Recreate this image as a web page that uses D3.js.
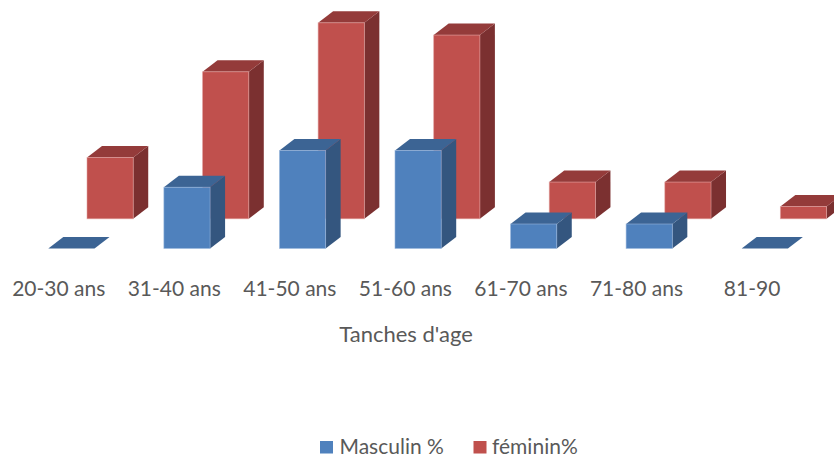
<!DOCTYPE html>
<html>
<head>
<meta charset="utf-8">
<script src="https://cdn.jsdelivr.net/npm/d3@7"></script>
<style>
  html, body { margin: 0; padding: 0; background: #fff; }
  svg { display: block; }
  text { font-family: Lato, "Open Sans", sans-serif; fill: #595959; }
</style>
</head>
<body>
<svg id="chart" width="834" height="456"></svg>
<script>
// Age groups and the share of each sex in every group (%)
const categories = ["20-30 ans", "31-40 ans", "41-50 ans", "51-60 ans", "61-70 ans", "71-80 ans", "81-90"];
const masculin = [0, 6.25, 10, 10, 2.5, 2.5, 0];
const feminin  = [6.25, 15, 20, 18.75, 3.75, 3.75, 1.25];
const seriesNames = ["Masculin %", "féminin%"];
const axisTitle = "Tanches d'age";

const series = [
  { name: seriesNames[0], values: masculin, row: 0,
    front: "#4F81BD", top: "#3C6494", side: "#34567F", edge: "#9DB9DE" },
  { name: seriesNames[1], values: feminin, row: 1,
    front: "#C0504D", top: "#943B3A", side: "#7B3030", edge: "#E2A3A1" }
];

const svg = d3.select("#chart");

// Category position of the front face of the nearest row
const x = d3.scaleBand()
  .domain(categories)
  .range([48.3, 48.3 + 115.56 * (categories.length - 0.6)])
  .paddingInner(0.6)
  .paddingOuter(0);

// Bar height in pixels
const h = d3.scaleLinear().domain([0, 20]).range([0, 196]);

// Depth rows: each series sits one row further back (shifted right and up)
const rowX = d3.scaleLinear().domain([0, 1]).range([0, 38.7]);
const rowY = d3.scaleLinear().domain([0, 1]).range([248.5, 218.8]);

// Thickness of each column along the depth direction
const depth = { dx: 15, dy: -11.6 };

const bw = x.bandwidth();

// Draw back row first so the front row overlaps it
const rows = series.slice().sort((a, b) => b.row - a.row);

rows.forEach(s => {
  const g = svg.append("g").attr("class", "series");
  const bars = g.selectAll("g.bar")
    .data(categories.map((c, i) => ({ c, v: s.values[i] })))
    .join("g").attr("class", "bar");

  const geom = d => {
    const x0 = x(d.c) + rowX(s.row);
    const yb = rowY(s.row);
    const yt = yb - h(d.v);
    return { x0, x1: x0 + bw, yb, yt };
  };

  // side face
  bars.append("polygon")
    .attr("points", d => {
      const q = geom(d);
      return [[q.x1, q.yt], [q.x1 + depth.dx, q.yt + depth.dy],
              [q.x1 + depth.dx, q.yb + depth.dy], [q.x1, q.yb]].join(" ");
    })
    .attr("fill", s.side);

  // top face
  bars.append("polygon")
    .attr("points", d => {
      const q = geom(d);
      return [[q.x0, q.yt], [q.x0 + depth.dx, q.yt + depth.dy],
              [q.x1 + depth.dx, q.yt + depth.dy], [q.x1, q.yt]].join(" ");
    })
    .attr("fill", s.top);

  // front face
  bars.filter(d => d.v > 0).append("rect")
    .attr("x", d => geom(d).x0)
    .attr("y", d => geom(d).yt)
    .attr("width", bw)
    .attr("height", d => h(d.v))
    .attr("fill", s.front)
    .attr("stroke", s.edge)
    .attr("stroke-width", 0.8)
    .attr("stroke-opacity", 0.7);
});

// Category labels
svg.append("g").selectAll("text")
  .data(categories)
  .join("text")
  .attr("x", d => x(d) + bw / 2 - 12.7)
  .attr("y", 296)
  .attr("text-anchor", "middle")
  .attr("font-size", 21)
  .text(d => d);

// Axis title
svg.append("text")
  .attr("x", 406)
  .attr("y", 342)
  .attr("text-anchor", "middle")
  .attr("font-size", 22)
  .text(axisTitle);

// Legend
const legend = svg.append("g").attr("class", "legend");
const legendItems = [
  { s: series[0], x: 320, tx: 339.5 },
  { s: series[1], x: 473.5, tx: 492 }
];
legendItems.forEach(it => {
  legend.append("rect")
    .attr("x", it.x).attr("y", 441)
    .attr("width", 13).attr("height", 12.5)
    .attr("fill", it.s.front);
  legend.append("text")
    .attr("x", it.tx).attr("y", 453.5)
    .attr("font-size", 21)
    .text(it.s.name);
});
</script>
</body>
</html>
